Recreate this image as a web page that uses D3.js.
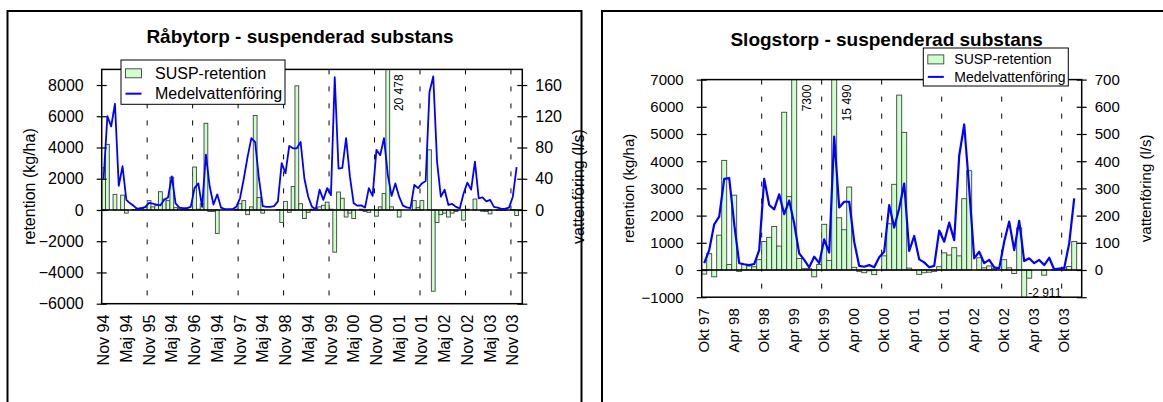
<!DOCTYPE html>
<html lang="sv">
<head>
<meta charset="utf-8" />
<title>Suspenderad substans</title>
<script src="https://d3js.org/d3.v7.min.js"></script>
<style>
    body { margin: 0; background: #fff; }
    svg { display: block; font-family: "Liberation Sans", Arial, sans-serif; }
</style>
</head>
<body>
<script>
// ---- data ----
// Råbytorp, monthly Nov 94 .. Dec 03
const rabySusp = [2700, 4200, 0, 1000, 0, 950, -200, 0, 30, 120, 150, 150,
    600, 200, 280, 1170, 700, 600, 2100, 150, 80, 50, 50, 30,
    2750, 50, 400, 5550, -100, -100, -1500, 0, 0, 0, 0, 50,
    400, 600, -300, 200, 6050, 800, -200, 0, 0, 0, 30, -800,
    550, -150, 1500, 7950, 400, -550, -150, 50, 100, 200, 300, 500,
    50, -2700, 1150, 750, -450, -200, -550, 0, 50, -100, -150, 0,
    -400, 200, 1050, 20478, 200, 0, -450, 0, 0, 0, 600, 150,
    600, 0, 3850, -5200, -800, -300, -200, -450, -200, -100, 0, -650,
    50, 0, 700, 0, -80, -100, -250, 0, -30, -30, -20, 0,
    30, -350];
const rabyFlow = [40, 120, 107, 136, 31, 56, 13, 8.5, 5, 1, 2, 4,
    9, 8, 7, 6, 13, 16, 43, 8.5, 3, 2.5, 2.5, 4,
    28, 34, 4, 71, 30, 7, 20, 3, 1, 1, 1, 4,
    15, 40, 68, 92, 87, 40, 5, 4, 4, 5, 11, 60,
    47, 82, 79, 79, 87, 40, 17, 4, 1, 26, 13, 28,
    19, 170, 53, 54, 92, 43, 8.5, 5.5, 6, 3, 28, 18,
    77, 70, 92, 45, 18, 34, 17, 5.5, 3.4, 2.5, 32, 28,
    34, 37, 151, 171, 62, 17, 26, 6.4, 7.7, 4, 2, 21,
    35, 26, 62, 15, 16, 11, 13, 4, 3, 1.3, 1.7, 3,
    17, 55];
const rabyTicks = ["Nov 94", "Maj 94", "Nov 95", "Maj 94", "Nov 96", "Maj 94", "Nov 97",
    "Maj 94", "Nov 98", "Maj 94", "Nov 99", "Maj 00", "Nov 00", "Maj 01", "Nov 01",
    "Maj 02", "Nov 02", "Maj 03", "Nov 03"];
const rabyNotes = [{ i: 75, text: "20 478" }];

// Slogstorp, monthly Okt 97 .. Dec 03
const slogSusp = [-150, 600, -250, 1280, 4030, 200, 2750, -50, 200, 150, 120, 380,
    1050, 1200, 1600, 880, 5800, 2700, 7300, 420, 50, 50, -250, 200,
    1680, 350, 15490, 1920, 1480, 3050, 100, -50, -100, -30, -170, 0,
    520, 1700, 3150, 6430, 5060, 70, -20, -160, -100, -80, -50, 120,
    630, 550, 820, 520, 2620, 3650, 0, 450, 80, 150, 50, 0,
    380, 80, -130, 1550, -2911, -300, 0, 0, -190, 0, 20, 20,
    80, 130, 1050];
const slogFlow = [25, 73, 168, 196, 335, 338, 170, 25, 21, 18, 22, 73,
    335, 239, 223, 278, 205, 255, 171, 61, 37, 10, 49, 25,
    113, 64, 490, 230, 251, 251, 104, 15, 12, 18, 10, 47,
    67, 239, 156, 227, 318, 70, 125, 39, 28, 10, 15, 145,
    104, 174, 110, 420, 535, 300, 43, 67, 25, 37, 10, 6,
    104, 178, 73, 181, 33, 43, 25, 37, 18, 45, 2, 5,
    7, 98, 263];
const slogTicks = ["Okt 97", "Apr 98", "Okt 98", "Apr 99", "Okt 99", "Apr 00", "Okt 00",
    "Apr 01", "Okt 01", "Apr 02", "Okt 02", "Apr 03", "Okt 03"];
const slogNotes = [{ i: 18, text: "7300" }, { i: 26, text: "15 490" }, { i: 64, text: "-2 911", flat: true }];

const svg = d3.select("body").append("svg")
    .attr("width", 1163)
    .attr("height", 402);

// draw one chart panel
function drawPanel(cfg) {
    let g = svg.append("g");

    // white chart area with black frame
    g.append("rect")
        .attr("x", cfg.box[0]).attr("y", cfg.box[1])
        .attr("width", cfg.box[2]).attr("height", cfg.box[3])
        .attr("fill", "#fff").attr("stroke", "#000").attr("stroke-width", 2);

    g.append("text")
        .attr("x", cfg.titleX).attr("y", cfg.titleY)
        .attr("text-anchor", "middle")
        .attr("font-size", 19).attr("font-weight", "bold")
        .text(cfg.title);

    let [x0, x1, yTop, yBot] = cfg.plot;
    let x = d3.scaleBand()
        .domain(d3.range(cfg.susp.length + 1))
        .range([x0, x1])
        .padding(0);
    let bw = x.bandwidth();
    let y = d3.scaleLinear().domain(cfg.yDom).range([yBot, yTop]);
    let y2 = d3.scaleLinear().domain(cfg.y2Dom).range([yBot, yTop]);

    let clipId = "clip" + cfg.id;
    g.append("clipPath").attr("id", clipId)
        .append("rect")
        .attr("x", x0).attr("y", yTop)
        .attr("width", x1 - x0).attr("height", yBot - yTop);

    // dashed yearly gridlines
    g.selectAll("line.grid")
        .data(d3.range(cfg.gridStep, cfg.susp.length + 1, cfg.gridStep))
        .enter()
        .append("line")
        .attr("class", "grid")
        .attr("x1", d => x(d)).attr("x2", d => x(d))
        .attr("y1", yTop).attr("y2", yBot)
        .attr("stroke", "#000").attr("stroke-width", 1)
        .attr("stroke-dasharray", "5,12");

    // retention bars
    g.append("g")
        .attr("clip-path", "url(#" + clipId + ")")
        .selectAll("rect")
        .data(cfg.susp)
        .enter()
        .append("rect")
        .attr("x", (d, i) => x(i))
        .attr("width", bw)
        .attr("y", d => y(Math.max(0, d)))
        .attr("height", d => Math.abs(y(d) - y(0)))
        .attr("fill", "#ccffcc")
        .attr("stroke", "#404040")
        .attr("stroke-width", 0.9);

    // zero line
    g.append("line")
        .attr("x1", x0).attr("x2", x1)
        .attr("y1", y(0)).attr("y2", y(0))
        .attr("stroke", "#000").attr("stroke-width", 1.5);

    // flow line
    let line = d3.line()
        .x((d, i) => x(i) + bw / 2)
        .y(d => y2(d));
    g.append("path")
        .datum(cfg.flow)
        .attr("clip-path", "url(#" + clipId + ")")
        .attr("d", line)
        .attr("fill", "none")
        .attr("stroke", "#0000ff")
        .attr("stroke-width", cfg.lineW)
        .attr("stroke-linejoin", "round");

    // plot frame
    g.append("rect")
        .attr("x", x0).attr("y", yTop)
        .attr("width", x1 - x0).attr("height", yBot - yTop)
        .attr("fill", "none").attr("stroke", "#000").attr("stroke-width", 1.5);

    // left axis
    let axL = g.append("g")
        .attr("transform", "translate(" + x0 + ",0)")
        .call(d3.axisLeft(y).tickValues(cfg.yTicks).tickSize(5).tickPadding(13).tickFormat(d3.format("d")));
    axL.select(".domain").remove();
    axL.selectAll(".tick line").attr("x1", 5).attr("stroke-width", 1.2);
    axL.selectAll("text").attr("font-size", cfg.fs).attr("font-family", null).attr("fill", "#000");

    // right axis, labels only from 0 and up
    let axR = g.append("g")
        .attr("transform", "translate(" + x1 + ",0)")
        .call(d3.axisRight(y2).tickValues(cfg.y2Ticks).tickSize(5).tickPadding(8)
            .tickFormat(d => d >= 0 ? d : ""));
    axR.select(".domain").remove();
    axR.selectAll(".tick line").attr("x1", -5).attr("stroke-width", 1.2);
    axR.selectAll("text").attr("font-size", cfg.fs).attr("font-family", null).attr("fill", "#000");

    // category labels, rotated
    g.selectAll("text.cat")
        .data(cfg.ticks)
        .enter()
        .append("text")
        .attr("class", "cat")
        .attr("transform", (d, k) => "translate(" + (x(k * 6) + bw / 2) + "," + (yBot + 11) + ") rotate(-90)")
        .attr("text-anchor", "end")
        .attr("dy", "0.35em")
        .attr("font-size", cfg.fs)
        .text(d => d);

    // axis titles
    g.append("text")
        .attr("transform", "translate(" + cfg.yTitleX[0] + "," + (yTop + yBot) / 2 + ") rotate(-90)")
        .attr("text-anchor", "middle").attr("dy", "0.35em")
        .attr("font-size", cfg.fs)
        .text("retention (kg/ha)");
    g.append("text")
        .attr("transform", "translate(" + cfg.yTitleX[1] + "," + (yTop + yBot) / 2 + ") rotate(-90)")
        .attr("text-anchor", "middle").attr("dy", "0.35em")
        .attr("font-size", cfg.fs)
        .text("vattenföring (l/s)");

    // value notes for bars outside the scale
    cfg.notes.forEach(n => {
        let cx = x(n.i) + bw / 2;
        if (n.flat) {
            g.append("text")
                .attr("x", cx + 4).attr("y", yBot - 4.5)
                .attr("dy", "0.35em")
                .attr("font-size", 12)
                .text(n.text);
        } else {
            g.append("text")
                .attr("transform", "translate(" + (cx + cfg.noteDx) + "," + (yTop + 5) + ") rotate(-90)")
                .attr("text-anchor", "end").attr("dy", "0.35em")
                .attr("font-size", 12)
                .text(n.text);
        }
    });

    // legend
    let [lx, ly, lw, lh] = cfg.legend;
    let leg = g.append("g");
    leg.append("rect")
        .attr("x", lx).attr("y", ly).attr("width", lw).attr("height", lh)
        .attr("fill", "#fff").attr("stroke", "#000").attr("stroke-width", 1);
    let r1 = ly + lh * 0.3, r2 = ly + lh * 0.76;
    leg.append("rect")
        .attr("x", lx + 4.5).attr("y", r1 - 4.5).attr("width", 16).attr("height", 9)
        .attr("fill", "#ccffcc").attr("stroke", "#404040").attr("stroke-width", 0.9);
    leg.append("line")
        .attr("x1", lx + 4.5).attr("x2", lx + 20.5).attr("y1", r2).attr("y2", r2)
        .attr("stroke", "#0000ff").attr("stroke-width", 2);
    leg.append("text")
        .attr("x", lx + cfg.legTextDx).attr("y", r1).attr("dy", "0.35em")
        .attr("font-size", cfg.legFs).text("SUSP-retention");
    leg.append("text")
        .attr("x", lx + cfg.legTextDx).attr("y", r2).attr("dy", "0.35em")
        .attr("font-size", cfg.legFs).text("Medelvattenföring");
}

drawPanel({
    id: "raby",
    box: [7.5, 11, 574, 420],
    title: "Råbytorp - suspenderad substans",
    titleX: 300, titleY: 42.7,
    plot: [101.7, 522.3, 69.4, 303.7],
    yDom: [-6000, 9000], y2Dom: [-120, 180],
    yTicks: d3.range(-6000, 8001, 2000),
    y2Ticks: d3.range(-120, 161, 40),
    susp: rabySusp, flow: rabyFlow, ticks: rabyTicks, notes: rabyNotes,
    gridStep: 12, lineW: 1.8, fs: 16,
    yTitleX: [29, 578],
    noteDx: 11,
    legend: [121, 60, 164, 44.3], legTextDx: 34, legFs: 16
});

drawPanel({
    id: "slog",
    box: [602, 11, 600, 420],
    title: "Slogstorp - suspenderad substans",
    titleX: 886.7, titleY: 45.5,
    plot: [701.7, 1081.7, 79.6, 297.2],
    yDom: [-1000, 7000], y2Dom: [-100, 700],
    yTicks: d3.range(-1000, 7001, 1000),
    y2Ticks: d3.range(-100, 701, 100),
    susp: slogSusp, flow: slogFlow, ticks: slogTicks, notes: slogNotes,
    gridStep: 12, lineW: 2.2, fs: 15,
    yTitleX: [629, 1146],
    noteDx: 13,
    legend: [923.3, 48, 145, 38], legTextDx: 31, legFs: 14
});
</script>
</body>
</html>
